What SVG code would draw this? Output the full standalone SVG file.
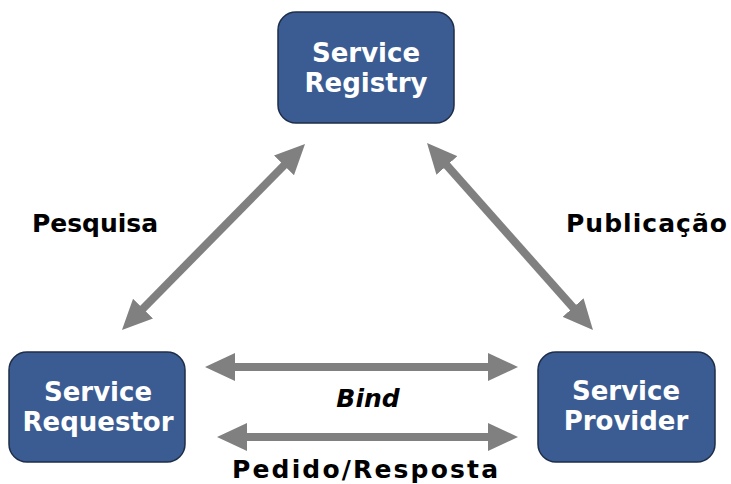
<svg xmlns="http://www.w3.org/2000/svg" width="731" height="484" viewBox="0 0 731 484">
<style>
.box{fill:#3b5c93;stroke:#1e2d48;stroke-width:1.5}
.bt{font-family:"DejaVu Sans",Verdana,sans-serif;font-weight:bold;font-size:26px;fill:#ffffff;text-anchor:middle}
.lb{font-family:"DejaVu Sans",Verdana,sans-serif;font-weight:bold;font-size:25px;fill:#000000}
.ar{stroke:#808080;stroke-width:8;fill:none;marker-start:url(#ah);marker-end:url(#ah)}
</style>
<defs>
<marker id="ah" markerUnits="userSpaceOnUse" markerWidth="30" markerHeight="28" viewBox="0 0 30 28" refX="10" refY="14" orient="auto-start-reverse">
<path d="M0,0 L30,14 L0,28 Z" fill="#808080"/>
</marker>
</defs>
<rect width="731" height="484" fill="#ffffff"/>
<g id="connectors">
<line class="ar" x1="291" y1="158.3" x2="136" y2="315.7"/>
<line class="ar" x1="440.3" y1="158" x2="579.7" y2="315"/>
<line class="ar" x1="225" y1="367" x2="498" y2="367"/>
<line class="ar" x1="237" y1="437" x2="498" y2="437"/>
</g>
<g id="registry">
<rect class="box" x="278" y="12" width="176" height="111" rx="18"/>
<text class="bt" x="366" y="62">Service</text>
<text class="bt" x="366" y="92">Registry</text>
</g>
<g id="requestor">
<rect class="box" x="9" y="352" width="176" height="110" rx="18"/>
<text class="bt" x="98" y="401">Service</text>
<text class="bt" x="98" y="431">Requestor</text>
</g>
<g id="provider">
<rect class="box" x="538" y="352" width="177" height="110" rx="18"/>
<text class="bt" x="626" y="400">Service</text>
<text class="bt" x="626" y="430">Provider</text>
</g>
<g id="labels">
<text class="lb" x="32" y="232" textLength="126" lengthAdjust="spacing">Pesquisa</text>
<text class="lb" x="566" y="232" textLength="161" lengthAdjust="spacing">Publicação</text>
<text class="lb" x="368" y="407" text-anchor="middle" font-style="italic">Bind</text>
<text class="lb" x="232" y="478" font-size="27" textLength="266" lengthAdjust="spacing">Pedido/Resposta</text>
</g>
</svg>
